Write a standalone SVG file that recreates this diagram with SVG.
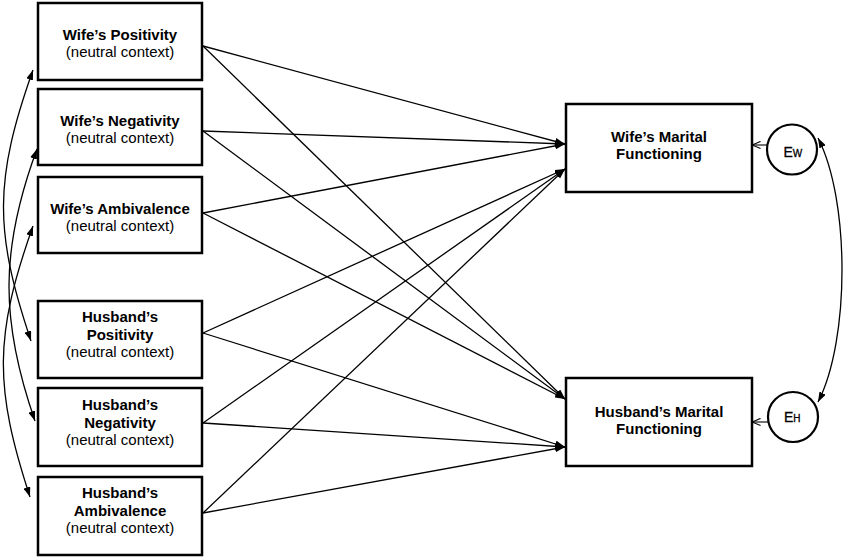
<svg xmlns="http://www.w3.org/2000/svg" width="850" height="558" viewBox="0 0 850 558">
<style>
.box{fill:#fff;stroke:#000;stroke-width:2.5}
.lat{fill:#fff;stroke:#000;stroke-width:2.2}
.b{font-family:"Liberation Sans",Arial,sans-serif;font-size:15px;font-weight:bold;text-anchor:middle;fill:#000}
.r{font-family:"Liberation Sans",Arial,sans-serif;font-size:15px;text-anchor:middle;fill:#000}
.e{font-family:"Liberation Sans",Arial,sans-serif;fill:#000;stroke:#000;stroke-width:0.3}
.path{fill:none;stroke:#000;stroke-width:1.3;marker-end:url(#ah)}
.cov{fill:none;stroke:#000;stroke-width:1.3;marker-start:url(#ah);marker-end:url(#ah)}
.err{fill:none;stroke:#000;stroke-width:1.1;marker-end:url(#open)}
</style>
<defs>
<marker id="ah" viewBox="0 0 10 7" refX="10" refY="3.5" markerWidth="10" markerHeight="7" markerUnits="userSpaceOnUse" orient="auto-start-reverse">
<path d="M0,0 L10,3.5 L0,7 z" fill="#000"/>
</marker>
<marker id="open" viewBox="0 0 10 10" refX="9.5" refY="5" markerWidth="9" markerHeight="9" markerUnits="userSpaceOnUse" orient="auto">
<path d="M0,1 L9.5,5 L0,9" fill="none" stroke="#000" stroke-width="1.2"/>
</marker>
</defs>
<rect width="850" height="558" fill="#fff"/>

<g id="connectors">
<path class="path" d="M203,46 L565,144"/>
<path class="path" d="M203,46 L565,399"/>
<path class="path" d="M203,131 L565,144"/>
<path class="path" d="M203,131 L565,399"/>
<path class="path" d="M203,213 L565,144"/>
<path class="path" d="M203,213 L565,399"/>
<path class="path" d="M203,333 L565,169"/>
<path class="path" d="M203,333 L565,447"/>
<path class="path" d="M203,423 L565,169"/>
<path class="path" d="M203,423 L565,447"/>
<path class="path" d="M203,513 L565,169"/>
<path class="path" d="M203,513 L565,447"/>
<path class="cov" d="M33,70 C-6,180 -6,231 31,341"/>
<path class="cov" d="M37,149 C0,249 0,321 35,421"/>
<path class="cov" d="M33,226 C-6,336 -6,387 30,497"/>
<path class="cov" d="M818,138 C850,200 850,340 818,402"/>
<path class="err" d="M767,145 L752,145"/>
<path class="err" d="M768,422 L752,422"/>
</g>

<g id="wife_pos">
<rect class="box" x="38" y="3" width="164" height="77"/>
<text class="b" x="120" y="40">Wife’s Positivity</text>
<text class="r" x="120" y="57">(neutral context)</text>
</g>
<g id="wife_neg">
<rect class="box" x="38" y="89" width="164" height="76"/>
<text class="b" x="120" y="126">Wife’s Negativity</text>
<text class="r" x="120" y="143">(neutral context)</text>
</g>
<g id="wife_amb">
<rect class="box" x="38" y="177" width="164" height="76"/>
<text class="b" x="120" y="214">Wife’s Ambivalence</text>
<text class="r" x="120" y="231">(neutral context)</text>
</g>
<g id="husb_pos">
<rect class="box" x="38" y="301" width="164" height="77"/>
<text class="b" x="120" y="322">Husband’s</text>
<text class="b" x="120" y="339.5">Positivity</text>
<text class="r" x="120" y="357">(neutral context)</text>
</g>
<g id="husb_neg">
<rect class="box" x="38" y="388" width="164" height="78"/>
<text class="b" x="120" y="410">Husband’s</text>
<text class="b" x="120" y="427.5">Negativity</text>
<text class="r" x="120" y="445">(neutral context)</text>
</g>
<g id="husb_amb">
<rect class="box" x="38" y="477" width="164" height="78"/>
<text class="b" x="120" y="498">Husband’s</text>
<text class="b" x="120" y="515.5">Ambivalence</text>
<text class="r" x="120" y="533">(neutral context)</text>
</g>
<g id="wife_mf">
<rect class="box" x="566" y="104" width="186" height="88"/>
<text class="b" x="659" y="142">Wife’s Marital</text>
<text class="b" x="659" y="159">Functioning</text>
</g>
<g id="husb_mf">
<rect class="box" x="566" y="378" width="186" height="88"/>
<text class="b" x="659" y="417">Husband’s Marital</text>
<text class="b" x="659" y="434">Functioning</text>
</g>
<g id="err_w">
<circle class="lat" cx="792" cy="149.5" r="25"/>
<text class="e" x="783.5" y="157"><tspan font-size="14">E</tspan><tspan font-size="10">W</tspan></text>
</g>
<g id="err_h">
<circle class="lat" cx="793" cy="417" r="25"/>
<text class="e" x="784" y="422"><tspan font-size="14">E</tspan><tspan font-size="10">H</tspan></text>
</g>
</svg>
